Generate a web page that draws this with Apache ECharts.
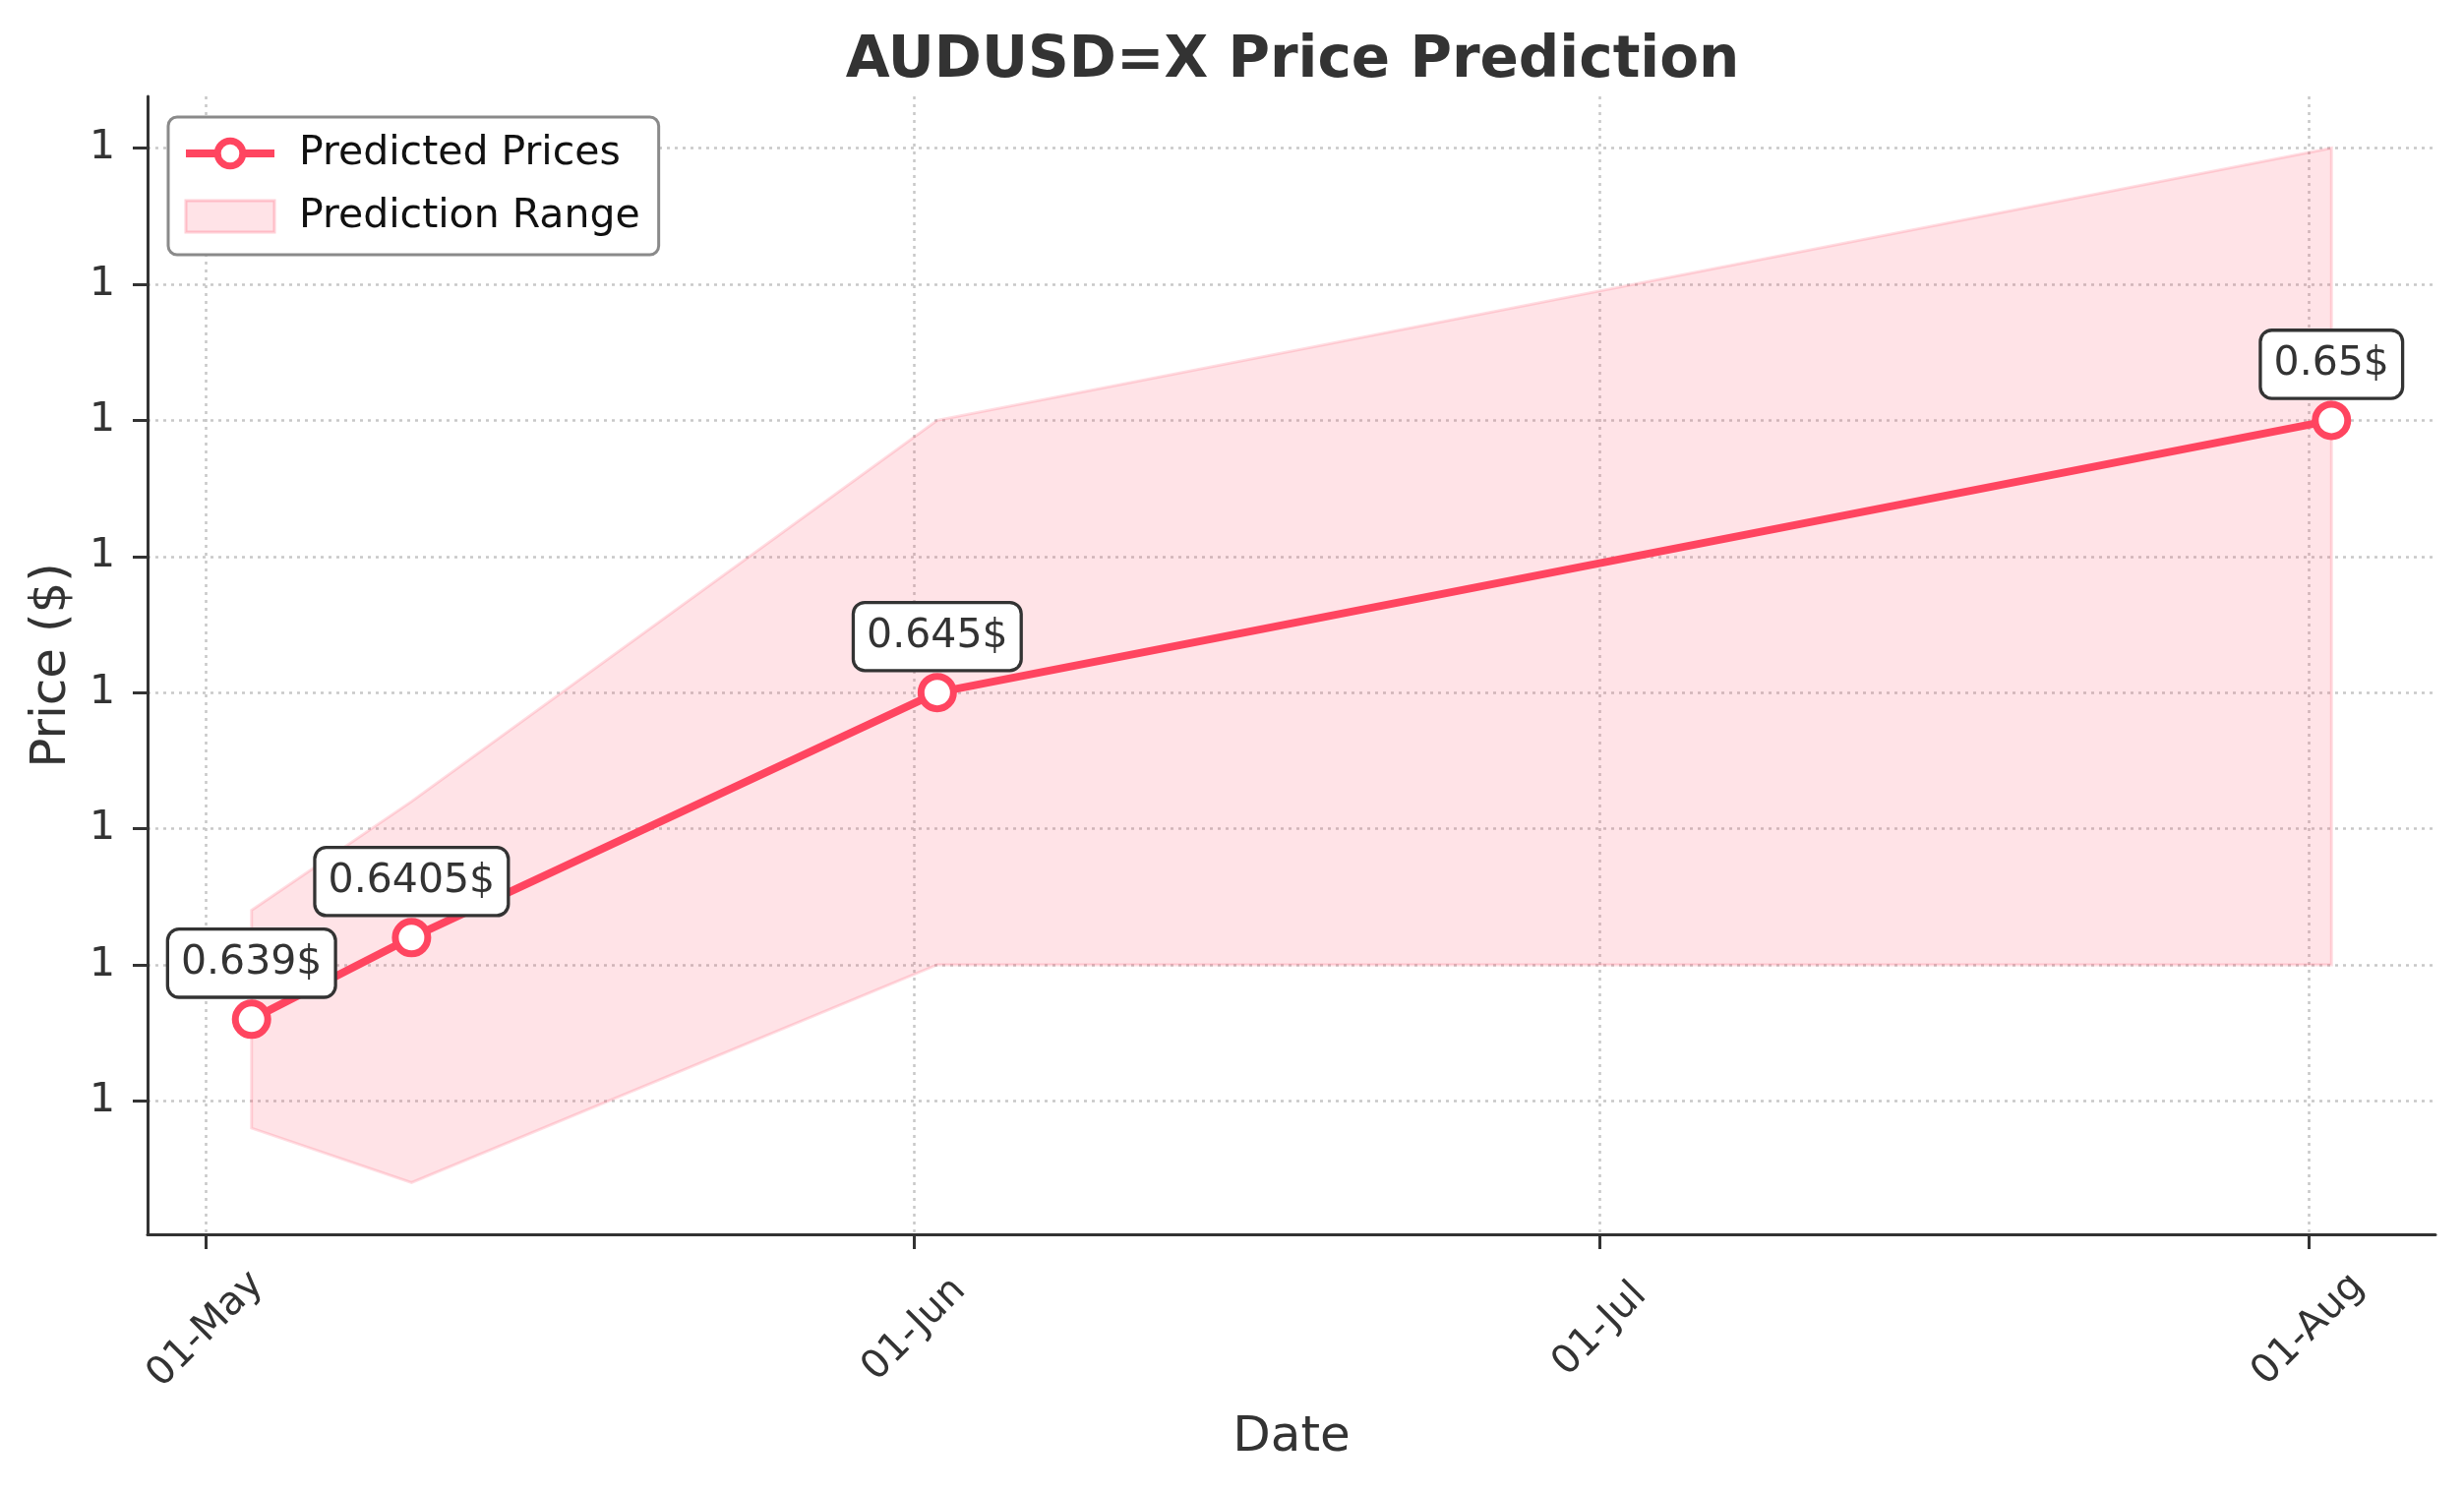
<!DOCTYPE html>
<html>
<head>
<meta charset="utf-8">
<script src="https://cdn.jsdelivr.net/npm/echarts@6/dist/echarts.min.js"></script>
<style>
html,body{margin:0;padding:0;background:#fff;}
#chart{width:2505px;height:1517px;}
</style>
</head>
<body>
<div id="chart"></div>
<script>
// ---- data ----
const dates = ['2024-05-03', '2024-05-10', '2024-06-02', '2024-08-02'];
const predicted = [0.639, 0.6405, 0.645, 0.65];
const lowerBound = [0.637, 0.636, 0.640, 0.640];
const upperBound = [0.641, 0.643, 0.650, 0.655];
const xTickDates = ['2024-05-01', '2024-06-01', '2024-07-01', '2024-08-01'];
const xTickLabels = ['01-May', '01-Jun', '01-Jul', '01-Aug'];
const yTickValues = [0.6375, 0.64, 0.6425, 0.645, 0.6475, 0.65, 0.6525, 0.655];

const FONT = '"DejaVu Sans", sans-serif';
const RED = '#FF4560';

function ts(s) {
  const p = s.split('-').map(Number);
  return Date.UTC(p[0], p[1] - 1, p[2]);
}
const xs = dates.map(ts);
const xTicks = xTickDates.map(ts);
const labelByTs = {};
xTicks.forEach((t, i) => { labelByTs[t] = xTickLabels[i]; });

// matplotlib-like 5% margins
const xSpan = xs[xs.length - 1] - xs[0];
const xMin = xs[0] - 0.05 * xSpan;
const xMax = xs[xs.length - 1] + 0.05 * xSpan;
const yLo = Math.min(...lowerBound, ...predicted);
const yHi = Math.max(...upperBound, ...predicted);
const ySpan = yHi - yLo;
const yMin = yLo - 0.05 * ySpan;
const yMax = yHi + 0.05 * ySpan;

const gridLine = { show: true, lineStyle: { color: '#c8c8c8', width: 2.5, type: [3, 5] } };

const chart = echarts.init(document.getElementById('chart'), null, { renderer: 'canvas' });

chart.setOption({
  animation: false,
  backgroundColor: '#ffffff',
  graphic: [{
    type: 'text',
    x: 1314, y: 63,
    style: {
      text: 'AUDUSD=X Price Prediction',
      font: 'bold 58px ' + FONT,
      fill: '#333333',
      textAlign: 'center',
      textVerticalAlign: 'middle'
    }
  }],
  grid: { left: 150, right: 29, top: 98, bottom: 262, containLabel: false },
  legend: {
    orient: 'vertical',
    left: 171, top: 119,
    padding: [16, 19, 18, 14],
    itemGap: 22,
    itemWidth: 90,
    itemHeight: 32,
    backgroundColor: '#ffffff',
    borderColor: '#8a8a8a',
    borderWidth: 3,
    borderRadius: 9,
    textStyle: { fontSize: 41, fontFamily: FONT, color: '#111111', padding: [0, 0, 0, 20], lineHeight: 42 },
    data: [
      { name: 'Predicted Prices',
        lineStyle: { color: RED, width: 8 },
        itemStyle: { color: '#ffffff', borderColor: RED, borderWidth: 7 } },
      { name: 'Prediction Range', icon: 'rect', itemStyle: { color: 'rgba(255,69,96,0.15)', borderColor: 'rgba(255,69,96,0.25)', borderWidth: 3 } }
    ]
  },
  xAxis: {
    type: 'value',
    min: xMin, max: xMax,
    scale: true,
    name: 'Date',
    nameLocation: 'middle',
    nameGap: 182,
    nameTextStyle: { fontSize: 50, fontFamily: FONT, color: '#333333' },
    axisLine: { show: true, lineStyle: { color: '#333333', width: 3 } },
    axisTick: { show: true, length: 15, lineStyle: { color: '#333333', width: 3 }, customValues: xTicks },
    axisLabel: {
      customValues: xTicks,
      rotate: 45,
      align: 'center',
      verticalAlign: 'middle',
      margin: 97,
      fontSize: 40,
      fontFamily: FONT,
      color: '#333333',
      formatter: function (v) { return labelByTs[v] || ''; }
    },
    splitLine: gridLine
  },
  yAxis: {
    type: 'value',
    min: yMin, max: yMax,
    name: 'Price ($)',
    nameLocation: 'middle',
    nameGap: 72,
    nameTextStyle: { fontSize: 50, fontFamily: FONT, color: '#333333' },
    axisLine: { show: true, lineStyle: { color: '#333333', width: 3 } },
    axisTick: { show: true, length: 15, lineStyle: { color: '#333333', width: 3 }, customValues: yTickValues },
    axisLabel: {
      customValues: yTickValues,
      margin: 33,
      fontSize: 41,
      fontFamily: FONT,
      color: '#333333',
      formatter: function (v) { return Number(v).toFixed(0); }
    },
    splitLine: gridLine
  },
  series: [
    {
      name: 'Prediction Range',
      type: 'custom',
      z: 1,
      silent: true,
      itemStyle: { color: 'rgba(255,69,96,0.15)' },
      encode: { x: 0, y: [1, 2] },
      data: dates.map((d, i) => [xs[i], lowerBound[i], upperBound[i]]),
      renderItem: function (params, api) {
        if (params.dataIndex !== 0) return null;
        const pts = [];
        for (let i = 0; i < xs.length; i++) pts.push(api.coord([xs[i], upperBound[i]]));
        for (let i = xs.length - 1; i >= 0; i--) pts.push(api.coord([xs[i], lowerBound[i]]));
        return {
          type: 'polygon',
          shape: { points: pts },
          style: { fill: 'rgba(255,69,96,0.15)', stroke: 'rgba(255,69,96,0.18)', lineWidth: 3 }
        };
      }
    },
    {
      name: 'Predicted Prices',
      type: 'line',
      z: 3,
      color: RED,
      data: dates.map((d, i) => [xs[i], predicted[i]]),
      symbol: 'circle',
      symbolSize: 33,
      showAllSymbol: true,
      lineStyle: { color: RED, width: 8 },
      itemStyle: { color: '#ffffff', borderColor: RED, borderWidth: 7 },
      emphasis: { disabled: true },
      label: {
        show: true,
        position: 'top',
        distance: 4,
        formatter: function (p) { return p.value[1] + '$'; },
        fontSize: 41,
        fontFamily: FONT,
        color: '#333333',
        lineHeight: 46,
        backgroundColor: '#ffffff',
        borderColor: '#333333',
        borderWidth: 3.3,
        borderRadius: 10,
        padding: [10, 12, 10, 12]
      }
    }
  ]
});
</script>
</body>
</html>
